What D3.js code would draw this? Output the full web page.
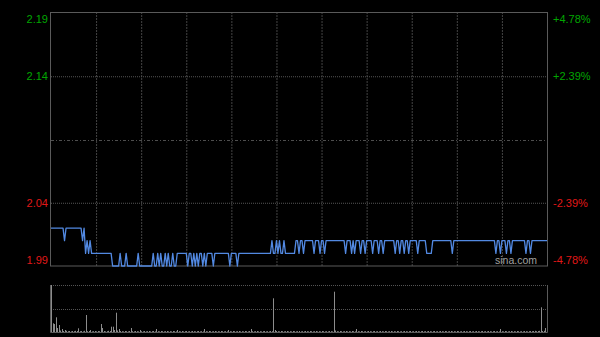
<!DOCTYPE html>
<html>
<head>
<meta charset="utf-8">
<script src="https://cdn.jsdelivr.net/npm/d3@7"></script>
<style>
  html, body { margin: 0; padding: 0; background: #000; }
  svg { display: block; }
</style>
</head>
<body>
<svg id="chart"></svg>
<script>
// Intraday data, one point per minute (9:30-16:00 with lunch break)
const prevClose = 2.09
const priceTicks = [2.19, 2.14, 2.04, 1.99]
const pctLabels = ['+4.78%', '+2.39%', '-2.39%', '-4.78%']

const prices = [
  2.02, 2.02, 2.02, 2.02, 2.02, 2.02, 2.02, 2.02, 2.02, 2.01,
  2.02, 2.02, 2.02, 2.02, 2.02, 2.02, 2.02, 2.02, 2.02, 2.02,
  2.02, 2.01, 2.02, 2.00, 2.01, 2.00, 2.01, 2.00, 2.00, 2.00,
  2.00, 2.00, 2.00, 2.00, 2.00, 2.00, 2.00, 2.00, 2.00, 2.00,
  2.00, 1.99, 1.99, 1.99, 1.99, 1.99, 2.00, 1.99, 1.99, 1.99,
  2.00, 1.99, 1.99, 1.99, 1.99, 1.99, 1.99, 1.99, 2.00, 1.99,
  1.99, 1.99, 1.99, 1.99, 1.99, 1.99, 1.99, 1.99, 2.00, 1.99,
  1.99, 2.00, 1.99, 2.00, 1.99, 1.99, 2.00, 1.99, 2.00, 1.99,
  1.99, 2.00, 1.99, 1.99, 2.00, 2.00, 2.00, 2.00, 2.00, 2.00,
  2.00, 1.99, 2.00, 2.00, 1.99, 2.00, 1.99, 2.00, 1.99, 2.00,
  2.00, 1.99, 2.00, 1.99, 2.00, 2.00, 2.00, 2.00, 1.99, 2.00,
  2.00, 2.00, 2.00, 2.00, 2.00, 2.00, 2.00, 2.00, 2.00, 1.99,
  2.00, 2.00, 2.00, 2.00, 1.99, 2.00, 2.00, 2.00, 2.00, 2.00,
  2.00, 2.00, 2.00, 2.00, 2.00, 2.00, 2.00, 2.00, 2.00, 2.00,
  2.00, 2.00, 2.00, 2.00, 2.00, 2.00, 2.00, 2.01, 2.00, 2.00,
  2.01, 2.00, 2.01, 2.00, 2.00, 2.01, 2.00, 2.00, 2.00, 2.00,
  2.00, 2.00, 2.00, 2.01, 2.01, 2.00, 2.01, 2.01, 2.00, 2.01,
  2.01, 2.01, 2.01, 2.01, 2.01, 2.00, 2.01, 2.01, 2.01, 2.00,
  2.01, 2.01, 2.00, 2.01, 2.01, 2.01, 2.01, 2.01, 2.01, 2.01,
  2.01, 2.01, 2.01, 2.01, 2.01, 2.01, 2.00, 2.01, 2.01, 2.01,
  2.00, 2.01, 2.00, 2.01, 2.01, 2.01, 2.00, 2.01, 2.01, 2.00,
  2.01, 2.01, 2.01, 2.01, 2.00, 2.01, 2.01, 2.01, 2.00, 2.01,
  2.01, 2.00, 2.01, 2.01, 2.01, 2.01, 2.01, 2.01, 2.01, 2.00,
  2.01, 2.01, 2.00, 2.01, 2.01, 2.00, 2.01, 2.01, 2.00, 2.01,
  2.01, 2.01, 2.01, 2.01, 2.00, 2.01, 2.01, 2.01, 2.01, 2.01,
  2.00, 2.00, 2.00, 2.00, 2.01, 2.01, 2.01, 2.01, 2.01, 2.01,
  2.01, 2.01, 2.01, 2.01, 2.01, 2.01, 2.01, 2.00, 2.01, 2.01,
  2.01, 2.01, 2.01, 2.01, 2.01, 2.01, 2.01, 2.01, 2.01, 2.01,
  2.01, 2.01, 2.01, 2.01, 2.01, 2.01, 2.01, 2.01, 2.01, 2.01,
  2.01, 2.01, 2.01, 2.01, 2.01, 2.01, 2.00, 2.01, 2.01, 2.00,
  2.01, 2.01, 2.01, 2.00, 2.01, 2.01, 2.00, 2.01, 2.01, 2.01,
  2.01, 2.01, 2.01, 2.01, 2.01, 2.01, 2.00, 2.01, 2.01, 2.00,
  2.01, 2.01, 2.01, 2.01, 2.01, 2.01, 2.01, 2.01, 2.01, 2.01, 2.01
]

// volume per minute (thousand shares, estimated)
const volumes = [
  470, 87, 80, 147, 40, 70, 15, 30, 10, 20,
  12, 8, 10, 6, 10, 8, 12, 10, 37, 8,
  10, 6, 12, 170, 8, 10, 20, 6, 8, 10,
  6, 10, 8, 80, 40, 10, 6, 8, 12, 10,
  53, 53, 20, 193, 15, 30, 10, 8, 6, 10,
  8, 6, 10, 40, 8, 6, 10, 8, 6, 20,
  8, 6, 10, 6, 8, 10, 6, 8, 10, 6,
  30, 8, 6, 10, 8, 6, 8, 10, 6, 8,
  6, 10, 8, 6, 20, 8, 6, 10, 6, 8,
  10, 6, 8, 6, 10, 8, 6, 8, 10, 6,
  8, 6, 30, 8, 6, 10, 8, 6, 8, 10,
  6, 8, 6, 10, 8, 6, 8, 6, 20, 8,
  6, 10, 8, 6, 8, 10, 6, 8, 6, 10,
  8, 6, 10, 30, 8, 6, 8, 10, 6, 8,
  6, 8, 10, 6, 8, 6, 10, 8, 337, 20,
  10, 8, 6, 10, 8, 6, 8, 10, 6, 8,
  6, 10, 8, 6, 8, 10, 6, 8, 6, 10,
  8, 6, 10, 8, 6, 8, 10, 6, 8, 6,
  10, 8, 6, 8, 6, 10, 8, 6, 403, 15,
  8, 6, 10, 8, 6, 8, 10, 6, 8, 6,
  10, 8, 6, 30, 8, 6, 10, 8, 6, 8,
  6, 10, 8, 6, 8, 10, 6, 8, 6, 10,
  8, 6, 10, 8, 6, 8, 10, 6, 8, 6,
  10, 8, 6, 8, 6, 10, 8, 6, 8, 10,
  6, 8, 6, 10, 8, 6, 8, 10, 6, 8,
  6, 10, 8, 6, 8, 10, 6, 8, 6, 10,
  8, 6, 10, 8, 6, 8, 10, 6, 8, 6,
  10, 8, 6, 8, 6, 10, 8, 6, 8, 10,
  6, 8, 6, 10, 8, 6, 8, 10, 6, 8,
  6, 10, 8, 6, 8, 10, 6, 8, 6, 30,
  8, 6, 10, 8, 6, 8, 10, 6, 8, 6,
  10, 8, 6, 8, 6, 10, 8, 6, 8, 10,
  8, 10, 12, 8, 10, 12, 247, 10, 12, 40, 127
]

const width = 600
const height = 337
const sessionMinutes = 330
const gridEvery = 30

const plot = { left: 51, right: 547, top: 13, bottom: 266 }
const vol = { top: 285, bottom: 332 }

const font = '"Liberation Sans", Arial, sans-serif'
const frameColor = '#5a5a5a'
const lineColor = '#5289e2'
const upColor = '#00a600'
const downColor = '#e01818'

const svg = d3.select('#chart')
  .attr('width', width)
  .attr('height', height)

svg.append('rect')
  .attr('width', width)
  .attr('height', height)
  .attr('fill', '#000')

const x = d3.scaleLinear()
  .domain([0, sessionMinutes])
  .range([plot.left, plot.right])

const y = d3.scaleLinear()
  .domain([d3.min(priceTicks), d3.max(priceTicks)])
  .range([plot.bottom, plot.top])

const vy = d3.scaleLinear()
  .domain([0, d3.max(volumes)])
  .range([vol.bottom, vol.top])

// vertical grid (every half hour)
svg.append('g')
  .attr('transform', `translate(0, ${plot.bottom})`)
  .call(
    d3.axisBottom(x)
      .tickValues(d3.range(gridEvery, sessionMinutes, gridEvery))
      .tickSize(-(plot.bottom - plot.top))
      .tickFormat('')
  )
  .call(g => g.select('.domain').remove())
  .call(g => g.selectAll('.tick line')
    .attr('stroke', '#444')
    .attr('stroke-dasharray', '2,1'))

// horizontal grid
svg.append('g')
  .attr('transform', `translate(${plot.left}, 0)`)
  .call(
    d3.axisLeft(y)
      .tickValues([2.14, 2.04])
      .tickSize(-(plot.right - plot.left))
      .tickFormat('')
  )
  .call(g => g.select('.domain').remove())
  .call(g => g.selectAll('.tick line')
    .attr('stroke', '#555')
    .attr('stroke-dasharray', '1,1'))

// previous close line
svg.append('line')
  .attr('x1', plot.left)
  .attr('x2', plot.right)
  .attr('y1', Math.round(y(prevClose)) + 0.5)
  .attr('y2', Math.round(y(prevClose)) + 0.5)
  .attr('stroke', '#4e4e4e')
  .attr('stroke-dasharray', '3,2,1,2')

// frame
svg.append('rect')
  .attr('x', plot.left - 0.5)
  .attr('y', plot.top - 0.5)
  .attr('width', plot.right - plot.left + 1)
  .attr('height', plot.bottom - plot.top + 0.5)
  .attr('fill', 'none')
  .attr('stroke', frameColor)

// price line
const line = d3.line()
  .x((d, i) => x(i))
  .y(d => y(d))

svg.append('path')
  .datum(prices)
  .attr('fill', 'none')
  .attr('stroke', lineColor)
  .attr('stroke-width', 1.3)
  .attr('stroke-linejoin', 'round')
  .attr('d', line)

// left price labels
priceTicks.forEach((p, i) => {
  const dy = i === 0 ? 10 : i === priceTicks.length - 1 ? -2 : 4
  svg.append('text')
    .attr('x', plot.left - 3)
    .attr('y', y(p) + dy)
    .attr('text-anchor', 'end')
    .attr('font-family', font)
    .attr('font-size', 11)
    .attr('fill', p > prevClose ? upColor : downColor)
    .text(p.toFixed(2))
})

// right percent labels
pctLabels.forEach((t, i) => {
  const p = priceTicks[i]
  const dy = i === 0 ? 10 : i === pctLabels.length - 1 ? -2 : 4
  svg.append('text')
    .attr('x', plot.right + 6)
    .attr('y', y(p) + dy)
    .attr('font-family', font)
    .attr('font-size', 11)
    .attr('fill', p > prevClose ? upColor : downColor)
    .text(t)
})

// watermark
svg.append('text')
  .attr('x', plot.right - 10)
  .attr('y', plot.bottom - 2)
  .attr('text-anchor', 'end')
  .attr('font-family', font)
  .attr('font-size', 10.5)
  .attr('fill', '#a0a0a0')
  .text('sina.com')

// volume panel grid
const volGrid = [vol.top + 0.5, Math.round((vol.top + vol.bottom) / 2) + 0.5]
svg.selectAll('.vgrid')
  .data(volGrid)
  .join('line')
  .attr('x1', plot.left)
  .attr('x2', plot.right)
  .attr('y1', d => d)
  .attr('y2', d => d)
  .attr('stroke', '#555')
  .attr('stroke-dasharray', '1,1')

// volume bars
svg.append('g')
  .selectAll('line')
  .data(volumes)
  .join('line')
  .attr('x1', (d, i) => Math.round(x(i)) + 0.5)
  .attr('x2', (d, i) => Math.round(x(i)) + 0.5)
  .attr('y1', vy(0))
  .attr('y2', d => vy(d))
  .attr('stroke', '#8c8c8c')
  .attr('stroke-width', 1)

// volume frame (sides + base)
const vframe = d3.path()
vframe.moveTo(plot.left - 0.5, vol.top)
vframe.lineTo(plot.left - 0.5, vol.bottom + 0.5)
vframe.lineTo(plot.right + 0.5, vol.bottom + 0.5)
vframe.lineTo(plot.right + 0.5, vol.top)
svg.append('path')
  .attr('d', vframe.toString())
  .attr('fill', 'none')
  .attr('stroke', frameColor)
</script>
</body>
</html>
